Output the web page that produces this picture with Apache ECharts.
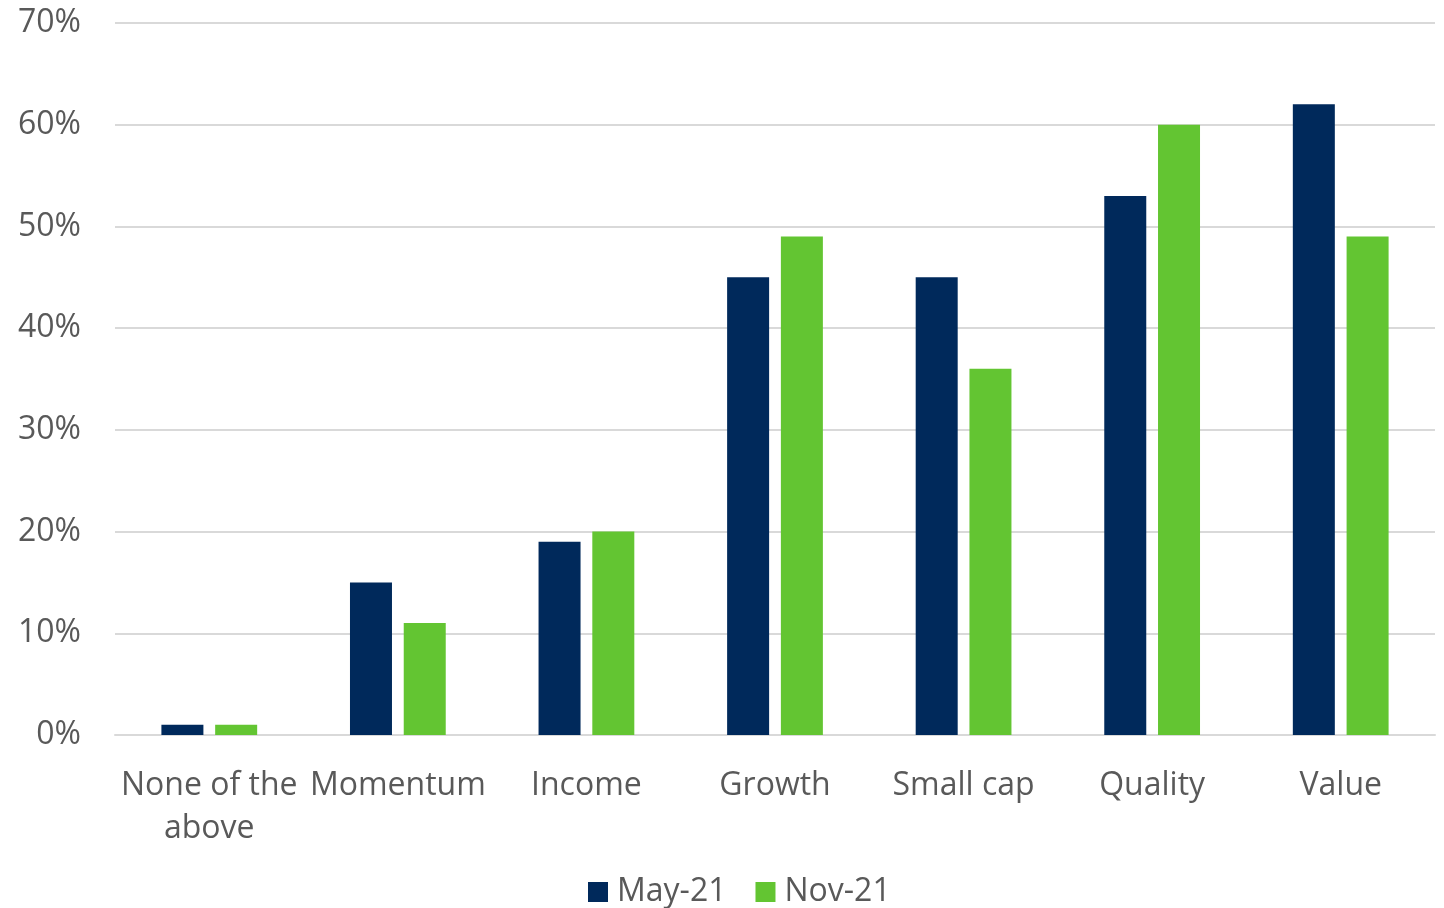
<!DOCTYPE html>
<html><head><meta charset="utf-8">
<script src="https://cdn.jsdelivr.net/npm/echarts@6/dist/echarts.min.js"></script>
<style>html,body{margin:0;padding:0;background:#fff}#c{width:1444px;height:908px}</style>
</head><body><div id="c"></div>
<script>
const categories = ["None of the\nabove","Momentum","Income","Growth","Small cap","Quality","Value"];
const may21 = [1,15,19,45,45,53,62];
const nov21 = [1,11,20,49,36,60,49];
const seriesNames = ["May-21","Nov-21"];
const chart = echarts.init(document.getElementById('c'));
const font = "'Open Sans', sans-serif";
chart.setOption({
  animation:false,
  grid:{left:115,right:9,top:23,bottom:173,containLabel:false},
  legend:{bottom:-5,left:583,itemWidth:20,itemHeight:20,itemGap:29,icon:'rect',
    textStyle:{fontFamily:font,fontSize:32,color:'#595959',padding:[0,0,0,4]}},
  xAxis:{type:'category',data:categories,
    axisLine:{lineStyle:{color:'#d9d9d9',width:2}},axisTick:{show:false},
    axisLabel:{fontFamily:font,fontSize:32,color:'#595959',margin:29,lineHeight:43,interval:0}},
  yAxis:{type:'value',min:0,max:70,interval:10,
    axisLabel:{formatter:'{value}%',fontFamily:font,fontSize:32,color:'#595959',margin:34},
    splitLine:{lineStyle:{color:'#d9d9d9',width:2}}},
  series:[
    {name:seriesNames[0],type:'bar',data:may21,barWidth:42,barGap:'28%',itemStyle:{color:'#00295b'}},
    {name:seriesNames[1],type:'bar',data:nov21,barWidth:42,itemStyle:{color:'#63c532'}}
  ]
});
</script></body></html>
